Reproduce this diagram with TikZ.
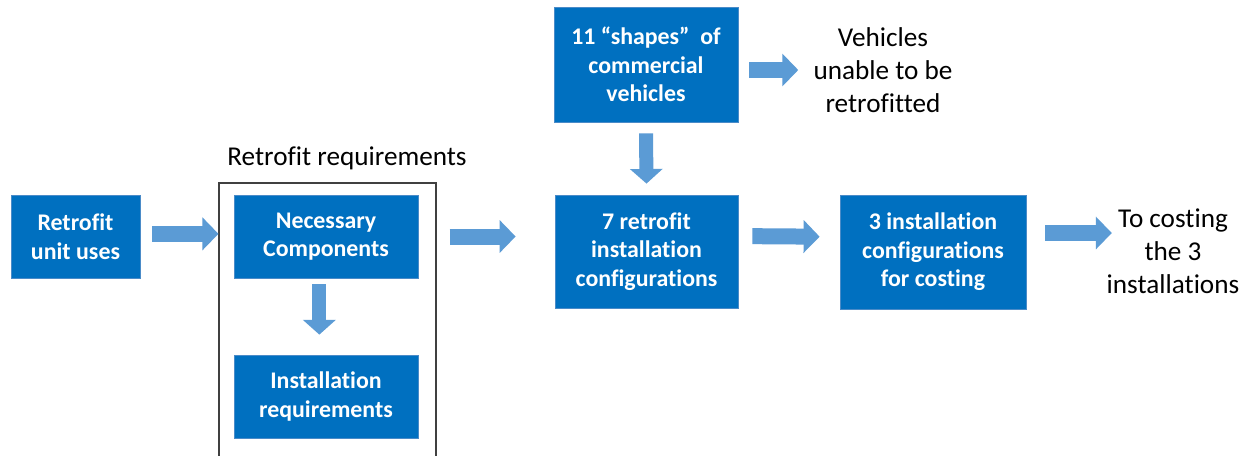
\documentclass[tikz,border=0pt]{standalone}
\usepackage{fontspec}
\setmainfont{Carlito}[Ligatures={NoCommon}]
\usetikzlibrary{arrows.meta}
\definecolor{boxblue}{HTML}{0070C0}
\definecolor{arrblue}{HTML}{5B9BD5}
\definecolor{boxedge}{HTML}{4A8BC8}
\definecolor{framegray}{HTML}{404040}
\begin{document}
\begin{tikzpicture}[x=0.75pt,y=-0.75pt,
  box/.style={fill=boxblue,draw=boxedge,line width=0.6pt,text=white,
    font=\bfseries\fontsize{17.9}{21.4}\selectfont,align=center,inner sep=0pt},
  plain/.style={font=\fontsize{20.4}{24.8}\selectfont,align=center,inner sep=0pt},
  frame/.style={draw=framegray,line width=0.8pt,inner sep=0pt},
  barrow/.style={draw=arrblue,line width=12pt,-{Triangle[width=24pt,length=12pt]}},
  varrow/.style={draw=arrblue,line width=10.5pt,-{Triangle[width=24pt,length=11pt]}}]
\useasboundingbox[fill=white] (0,0) rectangle (1252,455);

\node[box,minimum width=96.75pt,minimum height=62.25pt] (ru) at (75.5,236.5) {Retrofit\\unit uses};
\node[frame,minimum width=162.75pt,minimum height=207pt] (fr) at (327.5,321) {};
\node[plain] (rr) at (347,158) {Retrofit requirements};
\node[box,minimum width=138pt,minimum height=62.25pt] (nc) at (326,236.5) {Necessary\\Components};
\node[box,minimum width=138pt,minimum height=62.25pt] (ir) at (326,396.5) {Installation\\requirements};
\node[box,minimum width=138pt,minimum height=86.25pt] (sh) at (646,64.5) {11 “shapes”\ \ of\\commercial\\vehicles};
\node[plain] (veh) at (883,70) {Vehicles\\unable to be\\retrofitted};
\node[box,minimum width=137.25pt,minimum height=84.75pt] (sv) at (646.5,251.5) {7 retrofit\\installation\\configurations};
\node[box,minimum width=139.5pt,minimum height=85.5pt] (ic) at (933,252) {3 installation\\configurations\\for costing};
\node[plain] (cost) at (1173,251) {To costing\\the 3\\installations};

\draw[barrow] ([xshift=9pt,yshift=2pt]ru.east) -- ([yshift=2pt]fr.west |- ru.east);
\draw[barrow] ([xshift=9.75pt]fr.east |- nc.east) -- ([xshift=-29.25pt]sv.west |- nc.east);
\draw[varrow] ([yshift=-8.25pt]sh.south) -- ([yshift=8.25pt]sv.north);
\draw[barrow] ([xshift=8.25pt]sh.east |- veh.west) -- ([xshift=-11.25pt]veh.west);
\draw[varrow] ([xshift=-5pt,yshift=-4.5pt]nc.south) -- ([xshift=-5pt,yshift=15pt]ir.north);
\draw[barrow] ([xshift=10.5pt,yshift=11.5pt]sv.east) -- ([xshift=-15pt,yshift=11.5pt]ic.west);
\draw[barrow] ([xshift=14.25pt,yshift=14.25pt]ic.east) -- ([xshift=4pt,yshift=14.25pt]ic.east -| cost.west);
\end{tikzpicture}
\end{document}
